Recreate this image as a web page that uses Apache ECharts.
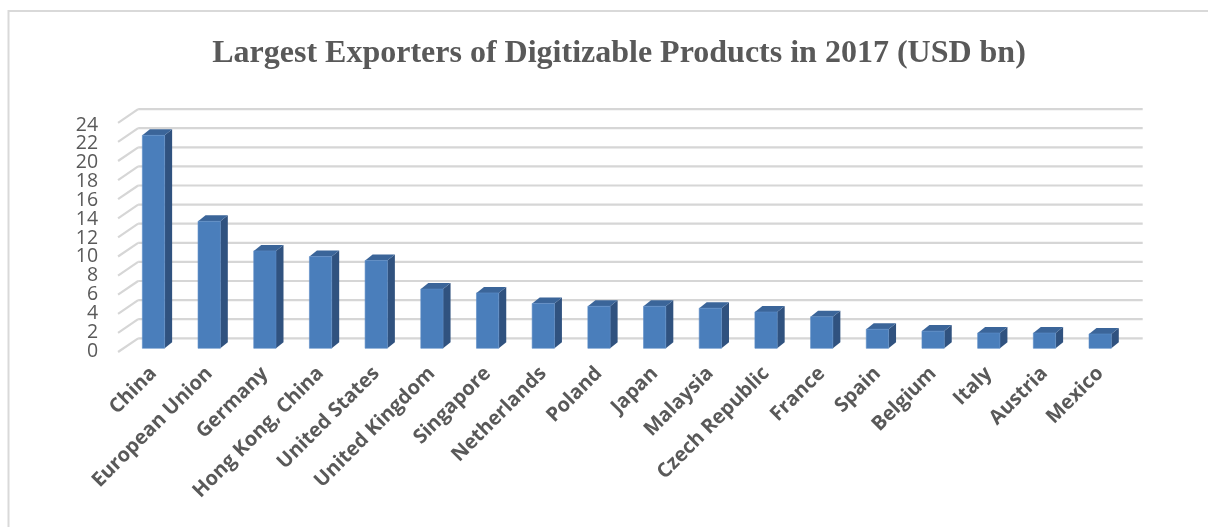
<!DOCTYPE html>
<html>
<head>
<meta charset="utf-8">
<script src="https://cdn.jsdelivr.net/npm/echarts@6/dist/echarts.min.js"></script>
<style>
html,body{margin:0;padding:0;background:#fff;}
#chart{width:1208px;height:527px;}
</style>
</head>
<body>
<div id="chart"></div>
<script>
const titleText = 'Largest Exporters of Digitizable Products in 2017 (USD bn)';
const categories = ['China', 'European Union', 'Germany', 'Hong Kong, China', 'United States', 'United Kingdom', 'Singapore', 'Netherlands', 'Poland', 'Japan', 'Malaysia', 'Czech Republic', 'France', 'Spain', 'Belgium', 'Italy', 'Austria', 'Mexico'];
const values = [22.3, 13.3, 10.2, 9.6, 9.2, 6.2, 5.8, 4.7, 4.4, 4.4, 4.2, 3.8, 3.3, 2.0, 1.8, 1.6, 1.6, 1.5];
const yTicks = [0, 2, 4, 6, 8, 10, 12, 14, 16, 18, 20, 22, 24];

// 3D look parameters (pixels)
const DEPTH_DX = 7.5, DEPTH_DY = -6;
const WALL_DX = 12.5, WALL_DY = -10;
const FRONT_DX = -7.6, FRONT_DY = 3.7;
const WALL_RIGHT_EXTRA = 14.7;
const LABEL_GAP = 27.6;

const chart = echarts.init(document.getElementById('chart'), null, {renderer: 'canvas'});

function renderWall(params, api) {
  const v = api.value(1);
  const p = api.coord([0, v]);
  const cs = params.coordSys;
  const y = p[1];
  const lineStyle = {stroke: '#d6d6d6', lineWidth: 2.2, fill: null};
  return {
    type: 'group',
    children: [
      {type: 'line', shape: {x1: cs.x + WALL_DX, y1: y + WALL_DY, x2: cs.x + cs.width + WALL_RIGHT_EXTRA, y2: y + WALL_DY}, style: lineStyle},
      {type: 'line', shape: {x1: cs.x + FRONT_DX, y1: y + FRONT_DY, x2: cs.x + WALL_DX, y2: y + WALL_DY}, style: lineStyle}
    ]
  };
}

function renderYLabel(params, api) {
  const v = api.value(1);
  const p = api.coord([0, v]);
  const cs = params.coordSys;
  return {
    type: 'text',
    x: cs.x - LABEL_GAP,
    y: p[1],
    style: {text: String(v), align: 'right', verticalAlign: 'middle', fontFamily: 'Open Sans', fontSize: 19.5, fill: '#595959'}
  };
}

function renderBar(params, api) {
  const i = api.value(0);
  const top = api.coord([i, api.value(1)]);
  const base = api.coord([i, 0]);
  const w = api.size([1, 0])[0] * 0.4;
  const x = top[0] - w / 2;
  const ty = top[1], by = base[1];
  return {
    type: 'group',
    children: [
      {type: 'polygon', shape: {points: [[x + w, ty], [x + w + DEPTH_DX, ty + DEPTH_DY], [x + w + DEPTH_DX, by + DEPTH_DY], [x + w, by]]}, style: {fill: '#30527f'}},
      {type: 'polygon', shape: {points: [[x, ty], [x + DEPTH_DX, ty + DEPTH_DY], [x + w + DEPTH_DX, ty + DEPTH_DY], [x + w, ty]]}, style: {fill: '#3b6599'}},
      {type: 'rect', shape: {x: x, y: ty, width: w, height: by - ty}, style: {fill: '#4a7ebb', stroke: '#5b8cc6', lineWidth: 0.6}}
    ]
  };
}

const option = {
  animation: false,
  backgroundColor: '#fff',
  title: {
    text: titleText,
    left: 614,
    textAlign: 'center',
    top: 33,
    textStyle: {fontFamily: 'Liberation Serif', fontWeight: 'bold', fontSize: 32, color: '#595959'}
  },
  graphic: [
    {type: 'rect', shape: {x: 8.5, y: 11, width: 1400, height: 700}, style: {fill: null, stroke: '#d9d9d9', lineWidth: 2}, silent: true, z: -10}
  ],
  grid: [
    {left: 125.65, right: 80, top: 119.1, bottom: 178.7, containLabel: false},
    {left: 125.65, right: 80, top: 125, bottom: 176, containLabel: false}
  ],
  xAxis: [
    {
      type: 'category',
      gridIndex: 0,
      data: categories,
      axisLine: {show: false},
      axisTick: {show: false},
      splitLine: {show: false},
      axisLabel: {interval: 0, rotate: 45, margin: 22, fontFamily: 'Open Sans', fontWeight: 'bold', fontSize: 20, color: '#595959', hideOverlap: false}
    },
    {type: 'category', gridIndex: 1, data: categories, show: false}
  ],
  yAxis: [
    {type: 'value', gridIndex: 0, min: 0, max: 24, interval: 2, show: false, splitLine: {show: false}},
    {type: 'value', gridIndex: 1, min: 0, max: 24, interval: 2, show: false, splitLine: {show: false}}
  ],
  series: [
    {type: 'custom', silent: true, xAxisIndex: 0, yAxisIndex: 0, renderItem: renderWall, data: yTicks.map(v => [0, v]), z: 1},
    {type: 'custom', silent: true, xAxisIndex: 1, yAxisIndex: 1, renderItem: renderYLabel, data: yTicks.map(v => [0, v]), z: 2},
    {type: 'custom', silent: true, xAxisIndex: 0, yAxisIndex: 0, renderItem: renderBar, data: values.map((v, i) => [i, v]), z: 5}
  ]
};
chart.setOption(option);
</script>
</body>
</html>
